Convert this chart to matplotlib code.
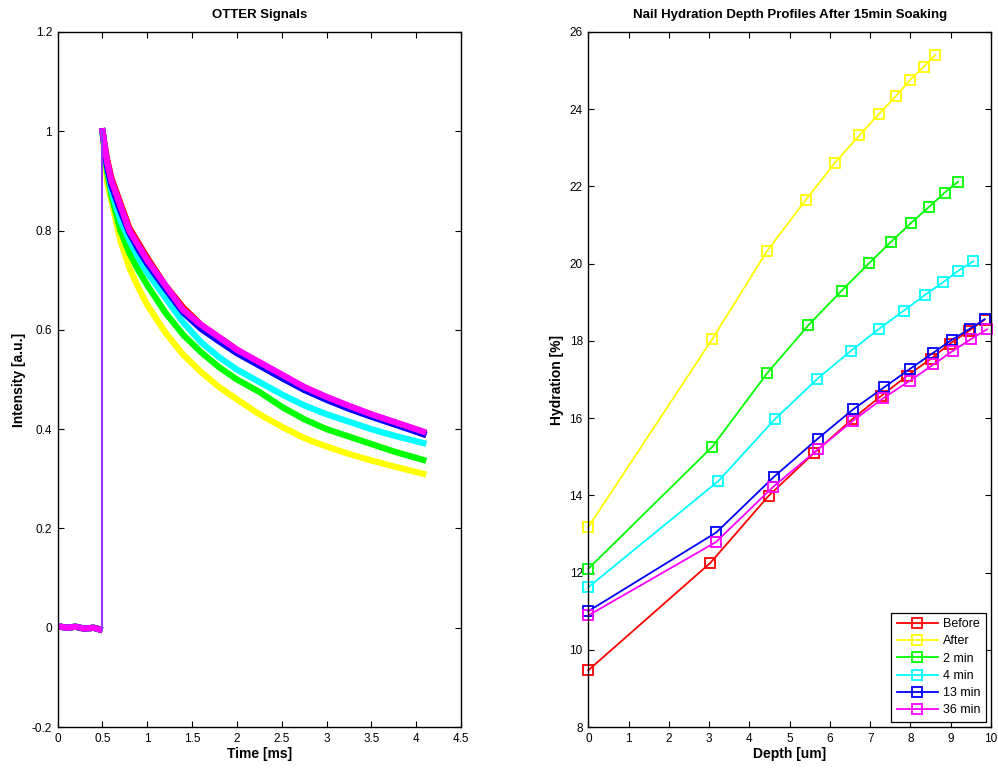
import matplotlib
matplotlib.use('Agg')
import matplotlib.pyplot as plt
import matplotlib.ticker as ticker

plt.rcParams['font.family'] = ['Liberation Sans', 'DejaVu Sans']
plt.rcParams['font.size'] = 8

# --- OTTER signals (noise not reproduced) ---
t_base = [0.0, 0.1, 0.2, 0.3, 0.4, 0.5]
base_vals = [0.003, 0.0, 0.002, -0.002, 0.0, -0.005]
t_sig = [0.5, 0.55, 0.6, 0.7, 0.8, 0.9, 1.0, 1.2, 1.4, 1.6, 1.8, 2.0,
         2.25, 2.5, 2.75, 3.0, 3.25, 3.5, 3.75, 4.08]

sig_black = [1.0, 0.935, 0.893, 0.843, 0.797, 0.765, 0.736, 0.686, 0.638, 0.605,
             0.58, 0.556, 0.531, 0.506, 0.482, 0.462, 0.444, 0.428, 0.413, 0.393]
sig_before = [1.0, 0.945, 0.905, 0.855, 0.805, 0.775, 0.745, 0.69, 0.645, 0.61,
              0.585, 0.56, 0.533, 0.508, 0.484, 0.463, 0.445, 0.428, 0.412, 0.39]
sig_after = [1.0, 0.90, 0.86, 0.78, 0.725, 0.685, 0.65, 0.595, 0.55, 0.515,
             0.485, 0.46, 0.43, 0.405, 0.382, 0.365, 0.35, 0.337, 0.325, 0.31]
sig_2min = [1.0, 0.92, 0.87, 0.80, 0.755, 0.72, 0.69, 0.635, 0.59, 0.555,
            0.525, 0.50, 0.475, 0.445, 0.42, 0.40, 0.385, 0.37, 0.355, 0.338]
sig_4min = [1.0, 0.93, 0.88, 0.82, 0.78, 0.745, 0.715, 0.665, 0.615, 0.575,
            0.545, 0.52, 0.495, 0.47, 0.448, 0.43, 0.415, 0.40, 0.387, 0.372]
sig_13min = [1.0, 0.93, 0.89, 0.84, 0.795, 0.762, 0.733, 0.683, 0.635, 0.602,
             0.577, 0.553, 0.528, 0.503, 0.479, 0.459, 0.441, 0.425, 0.41, 0.39]
sig_36min = [1.0, 0.94, 0.90, 0.85, 0.80, 0.77, 0.74, 0.69, 0.64, 0.61,
             0.585, 0.56, 0.535, 0.51, 0.485, 0.465, 0.447, 0.43, 0.415, 0.395]

# --- hydration depth profiles ---
labels = ['Before', 'After', '2 min', '4 min', '13 min', '36 min']
colors = ['#ff0000', '#ffff00', '#00ff00', '#00ffff', '#0000ff', '#ff00ff']

depth_before = [0, 3.03, 4.48, 5.61, 6.55, 7.28, 7.91, 8.50, 8.97, 9.45, 9.84]
hyd_before = [9.47, 12.25, 13.99, 15.10, 15.97, 16.58, 17.09, 17.53, 17.92, 18.26, 18.55]
depth_after = [0, 3.08, 4.44, 5.40, 6.12, 6.73, 7.22, 7.64, 7.99, 8.33, 8.61]
hyd_after = [13.18, 18.05, 20.33, 21.65, 22.61, 23.32, 23.88, 24.34, 24.76, 25.10, 25.40]
depth_2min = [0, 3.08, 4.44, 5.46, 6.29, 6.97, 7.52, 8.02, 8.45, 8.85, 9.18]
hyd_2min = [12.10, 15.26, 17.16, 18.40, 19.30, 20.01, 20.57, 21.06, 21.46, 21.84, 22.12]
depth_4min = [0, 3.23, 4.63, 5.68, 6.53, 7.23, 7.83, 8.35, 8.81, 9.19, 9.56]
hyd_4min = [11.62, 14.37, 15.97, 17.01, 17.75, 18.32, 18.78, 19.18, 19.52, 19.82, 20.06]
depth_13min = [0, 3.18, 4.60, 5.70, 6.58, 7.35, 7.98, 8.55, 9.03, 9.47, 9.84]
hyd_13min = [11.0, 13.04, 14.47, 15.47, 16.23, 16.80, 17.27, 17.68, 18.03, 18.31, 18.56]
depth_36min = [0, 3.17, 4.59, 5.70, 6.57, 7.33, 7.99, 8.57, 9.05, 9.51, 9.90]
hyd_36min = [10.89, 12.79, 14.22, 15.19, 15.93, 16.52, 16.97, 17.39, 17.74, 18.05, 18.30]

fig = plt.figure(figsize=(9.98, 7.69), dpi=100)
ax1 = fig.add_axes([0.0578, 0.0546, 0.4041, 0.9038])
ax2 = fig.add_axes([0.5895, 0.0546, 0.4035, 0.9038])

signals = [sig_black, sig_before, sig_after, sig_2min, sig_4min, sig_13min, sig_36min]
sig_colors = ['#000000'] + colors
for sig, c in zip(signals, sig_colors):
    ax1.plot(t_base, base_vals, color=c, lw=4.5, solid_capstyle='butt')
    ax1.plot([t_base[-1], t_sig[0]], [base_vals[-1], sig[0]], color=c, lw=1.2)
    ax1.plot(t_sig, sig, color=c, lw=4.5, solid_joinstyle='round')
# the thin jump line looks purple where blue and magenta overlap
ax1.plot([t_base[-1], t_sig[0]], [base_vals[-1], sig_36min[0]], color='#9933ff', lw=1.5)

ax1.set_xlim(0, 4.5)
ax1.set_ylim(-0.2, 1.2)
ax1.xaxis.set_major_locator(ticker.MultipleLocator(0.5))
ax1.yaxis.set_major_locator(ticker.MultipleLocator(0.2))
ax1.set_title('OTTER Signals', fontsize=9.5, fontweight='bold', pad=10)
ax1.set_xlabel('Time [ms]', fontsize=10, fontweight='bold', labelpad=2)
ax1.set_ylabel('Intensity [a.u.]', fontsize=10, fontweight='bold', labelpad=4)

depths = [depth_before, depth_after, depth_2min, depth_4min, depth_13min, depth_36min]
hyds = [hyd_before, hyd_after, hyd_2min, hyd_4min, hyd_13min, hyd_36min]
for d, h, c, lab in zip(depths, hyds, colors, labels):
    ax2.plot(d, h, color=c, lw=1.3, marker='s', ms=7, mfc='none', mec=c,
             mew=1.3, label=lab, clip_on=False)

ax2.set_xlim(0, 10)
ax2.set_ylim(8, 26)
ax2.xaxis.set_major_locator(ticker.MultipleLocator(1))
ax2.yaxis.set_major_locator(ticker.MultipleLocator(2))
ax2.set_title('Nail Hydration Depth Profiles After 15min Soaking', fontsize=9.5,
              fontweight='bold', pad=10)
ax2.set_xlabel('Depth [um]', fontsize=10, fontweight='bold', labelpad=2)
ax2.set_ylabel('Hydration [%]', fontsize=10, fontweight='bold', labelpad=4)
leg = ax2.legend(loc='lower right', fontsize=9, fancybox=False, framealpha=1,
                 edgecolor='black', handlelength=3.3, borderaxespad=0.4,
                 labelspacing=0.42, handletextpad=0.4, borderpad=0.45)
leg.get_frame().set_linewidth(0.9)

for ax in (ax1, ax2):
    ax.tick_params(direction='in', top=True, right=True, length=4, width=0.8,
                   labelsize=8.5, pad=4)
    ax.xaxis.set_major_formatter(ticker.FormatStrFormatter('%g'))
    ax.yaxis.set_major_formatter(ticker.FormatStrFormatter('%g'))
    for sp in ax.spines.values():
        sp.set_linewidth(1.0)

fig.savefig('out.png', dpi=100)
